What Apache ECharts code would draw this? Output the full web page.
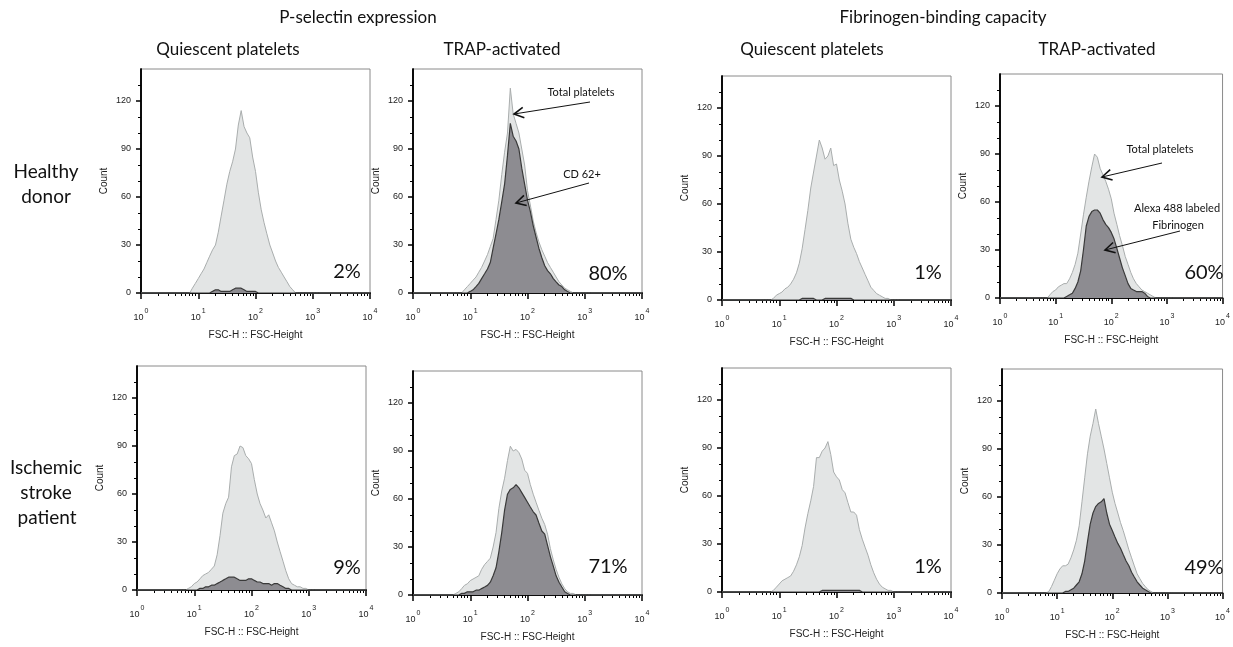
<!DOCTYPE html>
<html>
<head>
<meta charset="utf-8">
<script src="https://cdn.jsdelivr.net/npm/echarts@6/dist/echarts.min.js"></script>
<style>
  html, body { margin: 0; padding: 0; background: #fff; }
  #main { width: 1233px; height: 647px; }
</style>
</head>
<body>
<div id="main"></div>
<script>
// FSC-H bin centres (log spaced), shared by every histogram
var bins = [1, 5.0, 5.6, 6.3, 7.1, 7.9, 8.9, 10, 11.2, 12.6, 14.1, 15.8, 17.8, 20, 22.4, 25.1,
    28.2, 31.6, 35.5, 39.8, 44.7, 50.1, 56.2, 63.1, 70.8, 79.4, 89.1, 100, 112, 126, 141,
    158, 178, 200, 224, 251, 282, 316, 355, 398, 447, 501, 562, 631, 708, 794, 891, 1000,
    1122, 1259, 10000];

// counts: total platelets / positive platelets
var healthyPselQuiTotal = [0, 0,0,0,0,3,6,9,12,15,19, 23,27,30,38,48,58,68,76,82,90,
    105,114,104,100,97,85,76,63,52,44, 37,30,25,20,16,13,10,7,4,2, 0,0,0,0,0,0,0,0,0, 0];
var healthyPselQuiPos = [0, 0,0,0,0,0,0,0,0,0,0, 0,1,2,2,1,1,1,1,2,3,
    3,3,2,1,1,1,1,0,0,0, 0,0,0,0,0,0,0,0,0,0, 0,0,0,0,0,0,0,0,0, 0];
var healthyPselTrapTotal = [0, 0,0,0,0,2,4,6,8,10,13, 16,20,24,29,34,46,58,74,88,100,
    128,112,106,100,90,80,64,55,45,38, 32,27,23,19,16,13,10,7,5,3, 2,1,0,0,0,0,0,0,0, 0];
var healthyPselTrapPos = [0, 0,0,0,0,0,0,1,2,4,6, 9,12,15,19,28,37,46,57,68,86,
    106,98,95,90,78,68,58,51,42,35, 28,22,17,14,12,9,7,5,4,2, 1,0,0,0,0,0,0,0,0, 0];
var healthyFibQuiTotal = [0, 0,0,0,0,1,3,4,5,7,8, 10,13,17,23,32,44,56,70,80,90,
    100,95,88,90,95,84,85,75,68,60, 48,38,33,29,24,20,16,12,8,6, 4,3,2,1,1,0,0,0,0, 0];
var healthyFibQuiPos = [0, 0,0,0,0,0,0,0,0,0,0, 0,0,0,0,1,1,1,1,1,0,
    0,0,1,1,1,1,1,1,1,1, 1,1,0,0,0,0,0,0,0,0, 0,0,0,0,0,0,0,0,0, 0];
var healthyFibTrapTotal = [0, 0,0,0,0,2,4,5,7,8,9, 9,12,16,21,28,40,52,63,73,82,
    90,88,81,77,73,68,62,53,46,39, 33,26,21,16,12,9,7,5,4,3, 2,1,0,0,0,0,0,0,0, 0];
var healthyFibTrapPos = [0, 0,0,0,0,0,0,0,0,0,0, 1,2,3,6,10,17,30,45,51,54,
    55,55,53,49,46,44,41,37,31,25, 19,14,9,6,5,4,4,4,3,1, 0,0,0,0,0,0,0,0,0, 0];

var strokePselQuiTotal = [0, 0,0,0,0,1,2,4,5,7,9, 10,11,13,15,22,34,48,54,58,77,
    84,85,90,89,84,82,79,69,60,54, 50,45,47,42,37,30,24,18,12,7, 4,3,2,2,1,1,0,0,0, 0];
var strokePselQuiPos = [0, 0,0,0,0,0,0,0,0,1,1, 2,2,3,3,4,5,6,7,8,8,
    8,7,6,6,6,7,7,6,5,5, 4,4,4,3,4,4,3,2,1,1, 0,0,0,0,0,0,0,0,0, 0];
var strokePselTrapTotal = [0, 0,1,2,4,6,7,9,10,11,12, 16,19,21,23,30,39,54,65,73,84,
    93,90,91,89,85,78,76,69,63,58, 53,48,44,38,29,22,16,11,7,4, 2,1,1,0,0,0,0,0,0, 0];
var strokePselTrapPos = [0, 0,0,0,1,1,2,2,2,3,3, 4,5,6,8,12,17,27,39,53,63,
    66,67,69,67,64,61,58,55,52,50, 45,40,38,31,24,18,12,8,5,2, 1,0,0,0,0,0,0,0,0, 0];
var strokeFibQuiTotal = [0, 0,0,0,0,1,3,5,7,8,9, 10,13,17,22,29,40,49,57,66,84,
    84,88,90,94,86,75,72,70,64,62, 56,50,50,48,39,33,28,23,17,12, 8,5,3,2,1,1,0,0,0, 0];
var strokeFibQuiPos = [0, 0,0,0,0,0,0,0,0,0,0, 0,0,0,0,0,0,0,0,0,0,
    0,1,1,1,1,1,1,1,1,1, 1,1,1,1,1,0,0,0,0,0, 0,0,0,0,0,0,0,0,0, 0];
var strokeFibTrapTotal = [0, 0,0,0,1,4,8,12,15,17,17, 18,22,27,33,42,57,72,87,98,106,
    115,106,98,90,81,72,63,56,50,44, 39,33,27,22,17,12,9,6,4,2, 1,0,0,0,0,0,0,0,0, 0];
var strokeFibTrapPos = [0, 0,0,0,0,0,0,0,0,0,1, 1,2,3,5,7,12,20,32,43,50,
    54,56,57,59,50,43,39,35,31,28, 24,20,17,13,10,7,5,3,2,1, 0,0,0,0,0,0,0,0,0, 0];

var totals = [healthyPselQuiTotal, healthyPselTrapTotal, healthyFibQuiTotal, healthyFibTrapTotal,
    strokePselQuiTotal, strokePselTrapTotal, strokeFibQuiTotal, strokeFibTrapTotal];
var positives = [healthyPselQuiPos, healthyPselTrapPos, healthyFibQuiPos, healthyFibTrapPos,
    strokePselQuiPos, strokePselTrapPos, strokeFibQuiPos, strokeFibTrapPos];
var percents = ['2%', '80%', '1%', '60%', '9%', '71%', '1%', '49%'];

var yMajor = [0, 30, 60, 90, 120];
var yMinor = [10, 20, 40, 50, 70, 80, 100, 110, 130];
var xMinorMultipliers = [2, 3, 4, 5, 6, 7, 8, 9];

// panel boxes (px)
var boxes = [
    { left: 141, top: 69 }, { left: 413, top: 69 }, { left: 722, top: 76 }, { left: 1000, top: 74 },
    { left: 137, top: 366 }, { left: 413, top: 371 }, { left: 722, top: 368 }, { left: 1002, top: 369 }
];
var boxW = 229, boxH = 224;
var pctPos = [[347, 272], [608, 274], [928, 273], [1204, 273], [347, 568], [608, 567], [928, 567], [1204, 568]];

// minor tick positions in decades (log10 space)
var xMinorLog = [];
[0, 1, 2, 3].forEach(function (d) {
    xMinorMultipliers.forEach(function (m) { xMinorLog.push(d + Math.log10(m)); });
});

var chart = echarts.init(document.getElementById('main'));
var smallFont = 'Liberation Sans';
var bigFont = 'Lato';

var grids = [], xAxes = [], yAxes = [], series = [], graphics = [];

boxes.forEach(function (b, i) {
    grids.push({
        left: b.left, top: b.top, width: boxW, height: boxH,
        show: true, borderColor: '#8a8a8a', borderWidth: 1, backgroundColor: 'transparent'
    });
    // major x axis (log) with labels
    xAxes.push({
        type: 'log', logBase: 10, min: 1, max: 10000, gridIndex: i, position: 'bottom',
        name: 'FSC-H :: FSC-Height', nameLocation: 'middle', nameGap: 37,
        nameTextStyle: { fontFamily: smallFont, fontSize: 10, color: '#222' },
        axisLine: { show: true, lineStyle: { color: '#000', width: 1.5 } },
        axisTick: { show: true, length: 6, lineStyle: { color: '#000', width: 1.5 } },
        axisLabel: {
            margin: 15,
            formatter: function (v) {
                return '{b|10}{s|' + Math.round(Math.log10(v)) + '}';
            },
            rich: {
                b: { fontFamily: smallFont, fontSize: 9, color: '#222', verticalAlign: 'bottom' },
                s: { fontFamily: smallFont, fontSize: 7, color: '#222', verticalAlign: 'bottom', padding: [0, 0, 7, 1] }
            }
        },
        splitLine: { show: false }
    });
    // minor x ticks (same span, in decades)
    xAxes.push({
        type: 'value', min: 0, max: 4, gridIndex: i, position: 'bottom',
        axisLine: { show: true, onZero: false, lineStyle: { color: '#000', width: 1.5 } },
        axisTick: { show: true, length: 3, customValues: xMinorLog, lineStyle: { color: '#000', width: 1 } },
        axisLabel: { show: false },
        splitLine: { show: false }
    });
    yAxes.push({
        type: 'value', min: 0, max: 140, gridIndex: i, position: 'left',
        name: 'Count', nameLocation: 'middle', nameGap: 32,
        nameTextStyle: { fontFamily: smallFont, fontSize: 10, color: '#222' },
        axisLine: { show: true, lineStyle: { color: '#000', width: 1.5 } },
        axisTick: { show: true, length: 5, customValues: yMajor, lineStyle: { color: '#000', width: 1.5 } },
        axisLabel: { customValues: yMajor, margin: 10, fontFamily: smallFont, fontSize: 9, color: '#222' },
        splitLine: { show: false }
    });
    yAxes.push({
        type: 'value', min: 0, max: 140, gridIndex: i, position: 'left',
        axisLine: { show: true, onZero: false, lineStyle: { color: '#000', width: 1.5 } },
        axisTick: { show: true, length: 3, customValues: yMinor, lineStyle: { color: '#000', width: 1 } },
        axisLabel: { show: false },
        splitLine: { show: false }
    });

    series.push({
        type: 'line', xAxisIndex: 2 * i, yAxisIndex: 2 * i, symbol: 'none',
        data: bins.map(function (x, k) { return [x, totals[i][k]]; }),
        lineStyle: { color: '#a9adad', width: 1 },
        areaStyle: { color: '#e3e5e5', opacity: 1 },
        z: 2
    });
    series.push({
        type: 'line', xAxisIndex: 2 * i, yAxisIndex: 2 * i, symbol: 'none',
        data: bins.map(function (x, k) { return [x, positives[i][k]]; }),
        lineStyle: { color: '#3a3a3a', width: 1.2 },
        areaStyle: { color: '#8d8c91', opacity: 1 },
        z: 3
    });

    graphics.push({
        type: 'text', z: 100,
        x: pctPos[i][0], y: pctPos[i][1],
        style: { text: percents[i], fontFamily: bigFont, fontSize: 20, fill: '#111', align: 'center', verticalAlign: 'middle' }
    });
});

function label(text, x, y, size) {
    return {
        type: 'text', z: 100, x: x, y: y,
        style: { text: text, fontFamily: bigFont, fontSize: size, fill: '#111', align: 'center', verticalAlign: 'middle' }
    };
}

function arrow(x1, y1, x2, y2) {
    var a = Math.atan2(y1 - y2, x1 - x2), L = 11, s = 0.5;
    return {
        type: 'group', z: 100,
        children: [
            { type: 'line', z: 100, shape: { x1: x1, y1: y1, x2: x2, y2: y2 }, style: { stroke: '#111', lineWidth: 1 } },
            {
                type: 'polyline', z: 100,
                shape: { points: [[x2 + L * Math.cos(a + s), y2 + L * Math.sin(a + s)], [x2, y2],
                    [x2 + L * Math.cos(a - s), y2 + L * Math.sin(a - s)]] },
                style: { stroke: '#111', lineWidth: 1.6, fill: null }
            }
        ]
    };
}

graphics.push(
    label('P-selectin expression', 358, 18, 17),
    label('Fibrinogen-binding capacity', 943, 18, 17),
    label('Quiescent platelets', 228, 50, 17),
    label('TRAP-activated', 502, 50, 17),
    label('Quiescent platelets', 812, 50, 17),
    label('TRAP-activated', 1097, 50, 17),
    label('Healthy', 46, 172, 19),
    label('donor', 46, 197, 19),
    label('Ischemic', 46, 468, 19),
    label('stroke', 46, 493, 19),
    label('patient', 47, 518, 19),
    label('Total platelets', 581, 92, 11),
    label('CD 62+', 582, 174, 11),
    label('Total platelets', 1160, 149, 11),
    label('Alexa 488 labeled', 1177, 208, 11),
    label('Fibrinogen', 1178, 225, 11),
    arrow(590, 102, 514, 114),
    arrow(589, 183, 516, 203),
    arrow(1162, 163, 1102, 177),
    arrow(1180, 231, 1105, 250)
);

chart.setOption({
    backgroundColor: '#fff',
    animation: false,
    grid: grids,
    xAxis: xAxes,
    yAxis: yAxes,
    series: series,
    graphic: graphics
});
</script>
</body>
</html>
